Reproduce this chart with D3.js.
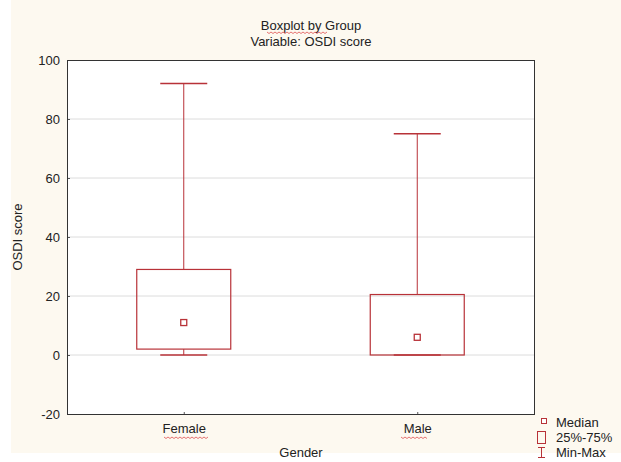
<!DOCTYPE html>
<html>
<head>
<meta charset="utf-8">
<script src="https://cdn.jsdelivr.net/npm/d3@7"></script>
<style>
  body { margin: 0; background: #fff; }
  text { font-family: "Liberation Sans", Arial, sans-serif; fill: #222; }
</style>
</head>
<body>
<svg id="chart"></svg>
<script>
// data
const groups = ["Female", "Male"];
const mins = [0, 0];
const q1s = [2, 0];
const medians = [11, 6];
const q3s = [29, 20.5];
const maxs = [92, 75];
const yTicks = [-20, 0, 20, 40, 60, 80, 100];

const width = 621, height = 462;
const margin = { left: 67, right: 87, top: 60, bottom: 48 };
const red = "#b83238";
const fs = 13;

const svg = d3.select("#chart").attr("width", width).attr("height", height);

// cream page background
svg.append("rect").attr("x", 11).attr("y", 0)
  .attr("width", width - 11).attr("height", 453).attr("fill", "#fdf9f0");

const x = d3.scalePoint().domain(groups)
  .range([margin.left, width - margin.right]).padding(0.5);
const y = d3.scaleLinear().domain([-20, 100])
  .range([height - margin.bottom, margin.top]);

// plot area
svg.append("rect")
  .attr("x", margin.left).attr("y", margin.top)
  .attr("width", width - margin.left - margin.right)
  .attr("height", height - margin.top - margin.bottom)
  .attr("fill", "#fff");

// gridlines
svg.append("g").selectAll("line").data(yTicks.slice(1, -1)).enter().append("line")
  .attr("x1", margin.left).attr("x2", width - margin.right)
  .attr("y1", d => y(d)).attr("y2", d => y(d))
  .attr("stroke", "#dcdcdc");

// axes
const yAxis = svg.append("g").attr("transform", `translate(${margin.left},0)`)
  .call(d3.axisLeft(y).tickValues(yTicks).tickFormat(d => String(d)).tickSize(-3).tickPadding(7));
const xAxis = svg.append("g").attr("transform", `translate(0,${height - margin.bottom})`)
  .call(d3.axisBottom(x).tickSize(-2).tickPadding(10));
[yAxis, xAxis].forEach(a => {
  a.select(".domain").remove();
  a.selectAll("line").attr("stroke", "#555");
  a.selectAll("text").attr("font-size", fs).attr("fill", "#222")
    .attr("font-family", "Liberation Sans, Arial, sans-serif");
});

// frame
svg.append("rect")
  .attr("x", margin.left + 0.5).attr("y", margin.top + 0.5)
  .attr("width", width - margin.left - margin.right)
  .attr("height", height - margin.top - margin.bottom)
  .attr("fill", "none").attr("stroke", "#333");

// boxes
const boxW = 94, capW = 47;
const g = svg.append("g").selectAll("g").data(groups).enter().append("g");
g.append("line")
  .attr("x1", d => x(d)).attr("x2", d => x(d))
  .attr("y1", (d, i) => y(maxs[i])).attr("y2", (d, i) => y(q3s[i]))
  .attr("stroke", red);
g.append("line")
  .attr("x1", d => x(d)).attr("x2", d => x(d))
  .attr("y1", (d, i) => y(mins[i])).attr("y2", (d, i) => y(q1s[i]))
  .attr("stroke", red);
g.append("line")
  .attr("x1", d => x(d) - capW / 2).attr("x2", d => x(d) + capW / 2)
  .attr("y1", (d, i) => y(maxs[i])).attr("y2", (d, i) => y(maxs[i]))
  .attr("stroke", red).attr("stroke-width", 1.5);
g.append("line")
  .attr("x1", d => x(d) - capW / 2).attr("x2", d => x(d) + capW / 2)
  .attr("y1", (d, i) => y(mins[i])).attr("y2", (d, i) => y(mins[i]))
  .attr("stroke", red).attr("stroke-width", 1.5);
g.append("rect")
  .attr("x", d => x(d) - boxW / 2).attr("width", boxW)
  .attr("y", (d, i) => y(q3s[i]))
  .attr("height", (d, i) => y(q1s[i]) - y(q3s[i]))
  .attr("fill", "none").attr("stroke", red).attr("stroke-width", 1.2);
g.append("rect")
  .attr("x", d => x(d) - 3).attr("y", (d, i) => y(medians[i]) - 3)
  .attr("width", 6).attr("height", 6)
  .attr("fill", "#fff").attr("stroke", red).attr("stroke-width", 1.3);

// titles
svg.append("text").attr("x", 311).attr("y", 30).attr("text-anchor", "middle")
  .attr("font-size", fs).text("Boxplot by Group");
svg.append("text").attr("x", 311).attr("y", 46).attr("text-anchor", "middle")
  .attr("font-size", fs).text("Variable: OSDI score");
svg.append("text").attr("transform", "translate(22,237) rotate(-90)")
  .attr("text-anchor", "middle").attr("font-size", fs).text("OSDI score");
svg.append("text").attr("x", 301).attr("y", 457).attr("text-anchor", "middle")
  .attr("font-size", fs).text("Gender");

// spell-check squiggles seen under some words
function squiggle(x0, x1, yy) {
  let d = `M${x0},${yy}`;
  for (let xx = x0, k = 0; xx < x1; xx += 2, k++) d += `L${xx + 2},${yy + (k % 2 ? 0 : 1.5)}`;
  svg.append("path").attr("d", d).attr("fill", "none")
    .attr("stroke", "#e05050").attr("stroke-width", 0.8);
}
squiggle(267, 327, 32);
squiggle(164, 208, 437);
squiggle(401, 427, 437);

// legend
const lg = svg.append("g");
lg.append("rect").attr("x", 541.5).attr("y", 418.5).attr("width", 5).attr("height", 5)
  .attr("fill", "#fff").attr("stroke", red);
lg.append("text").attr("x", 556).attr("y", 427).attr("font-size", fs).text("Median");
lg.append("rect").attr("x", 537.5).attr("y", 431.5).attr("width", 8).attr("height", 12)
  .attr("fill", "none").attr("stroke", red);
lg.append("text").attr("x", 556).attr("y", 442).attr("font-size", fs).text("25%-75%");
lg.append("path").attr("d", "M538,447.5H545M541.5,447.5V457.5M538,457.5H545")
  .attr("fill", "none").attr("stroke", red);
lg.append("text").attr("x", 556).attr("y", 457).attr("font-size", fs).text("Min-Max");
</script>
</body>
</html>
